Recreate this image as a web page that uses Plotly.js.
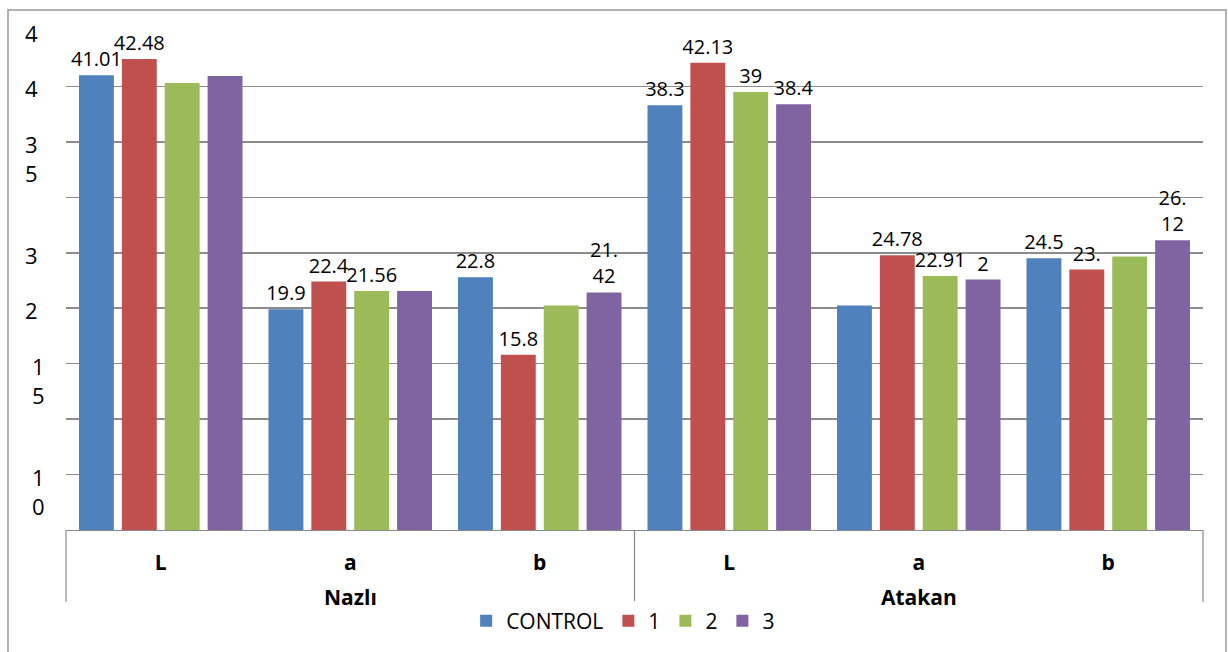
<!DOCTYPE html>
<html>
<head>
<meta charset="utf-8">
<script src="https://cdn.plot.ly/plotly-3.0.1.min.js"></script>
<style>html,body{margin:0;padding:0;background:#fff;}#chart{width:1228px;height:652px;}</style>
</head>
<body>
<div id="chart"></div>
<script>
// Category levels
const varieties = ['Nazlı', 'Nazlı', 'Nazlı', 'Atakan', 'Atakan', 'Atakan'];
const params = ['L', 'a', 'b', 'L', 'a', 'b'];

// Series names
const seriesNames = ['CONTROL', '1', '2', '3'];

// Series values
const controlVals = [41.01, 19.9, 22.8, 38.3, 20.25, 24.5];
const t1Vals = [42.48, 22.4, 15.8, 42.13, 24.78, 23.49];
const t2Vals = [40.3, 21.56, 20.25, 39.5, 22.91, 24.66];
const t3Vals = [40.95, 21.55, 21.42, 38.4, 22.58, 26.12];

// Data labels as they appear in the picture
const controlLabels = ['41.01', '19.9', '22.8', '38.3', '', '24.5'];
const t1Labels = ['42.48', '22.4', '15.8', '42.13', '24.78', '23.'];
const t2Labels = ['', '21.56', '', '39', '22.91', ''];
const t3Labels = ['', '', '21.<br>42', '38.4', '2', '26.<br>12'];

// Y tick labels as printed (wrapped) in the picture
const yTickVals = [45, 40, 35, 25, 20, 15, 5];
const yTickText = ['4', '4', '3<br>5', '3', '2', '1<br>5', '1<br>0'];

const colors = ['#4F81BD', '#C0504D', '#9BBB59', '#8064A2'];
const allVals = [controlVals, t1Vals, t2Vals, t3Vals];
const allLabels = [controlLabels, t1Labels, t2Labels, t3Labels];

const FONT = '"Open Sans", Lato, "Liberation Sans", sans-serif';
const xIdx = params.map((_, i) => i);
const xRange = [-0.5, params.length - 0.5];

const traces = seriesNames.map((name, i) => ({
  type: 'bar',
  name: name,
  x: xIdx,
  y: allVals[i],
  text: allLabels[i],
  textposition: 'outside',
  constraintext: 'none',
  cliponaxis: false,
  textfont: {family: FONT, size: 20, color: '#000'},
  marker: {color: colors[i], line: {width: 0}},
  hoverinfo: 'skip'
}));

// y tick labels (wrapped text as in the picture)
const annotations = yTickVals.map((v, i) => ({
  xref: 'paper', yref: 'y',
  x: 0, y: v,
  xanchor: 'center', yanchor: 'top',
  xshift: yTickText[i].startsWith('1') ? -28 : -35, yshift: 15,
  text: yTickText[i],
  showarrow: false,
  font: {family: FONT, size: 22, color: '#000'}
}));

// second level of the category axis: group names and dividers
const groups = [];
varieties.forEach((g, i) => {
  if (!groups.length || groups[groups.length - 1].name !== g) groups.push({name: g, start: i, end: i});
  else groups[groups.length - 1].end = i;
});
const toPaper = v => (v - xRange[0]) / (xRange[1] - xRange[0]);
const shapes = [];
groups.forEach(g => {
  annotations.push({
    xref: 'x', yref: 'paper',
    x: (g.start + g.end) / 2, y: -0.134,
    xanchor: 'center', yanchor: 'middle',
    text: '<b>' + g.name + '</b>', showarrow: false,
    font: {family: FONT, size: 21, color: '#000'}
  });
});
const bounds = [groups[0].start - 0.5].concat(groups.map(g => g.end + 0.5));
bounds.forEach(b => shapes.push({
  type: 'line', xref: 'paper', yref: 'paper',
  x0: toPaper(b), x1: toPaper(b), y0: 0, y1: -0.144,
  line: {color: '#888', width: 1.2}
}));
// outer chart-area frame
shapes.push({
  type: 'rect', xref: 'paper', yref: 'paper',
  x0: -0.051, x1: 1.0202, y0: -0.26, y1: 1.042,
  line: {color: '#999', width: 1.5}, fillcolor: 'rgba(0,0,0,0)', layer: 'below'
});

const layout = {
  width: 1228, height: 652,
  margin: {l: 66, r: 25, t: 31, b: 121},
  paper_bgcolor: '#fff', plot_bgcolor: '#fff',
  barmode: 'group',
  bargap: 0.095,
  bargroupgap: 0.186,
  showlegend: true,
  legend: {
    orientation: 'h',
    x: 0.49, xanchor: 'center',
    y: -0.18, yanchor: 'middle',
    font: {family: FONT, size: 21, color: '#000'},
    itemclick: false
  },
  xaxis: {
    range: xRange,
    tickvals: xIdx,
    ticktext: params.map(p => '<b>' + p + '</b>'),
    showline: true, linecolor: '#888', linewidth: 1.2,
    showgrid: false, zeroline: false,
    ticks: 'outside', ticklen: 14, tickcolor: 'rgba(0,0,0,0)',
    tickfont: {family: FONT, size: 21, color: '#000'}
  },
  yaxis: {
    range: [0, 45],
    dtick: 5,
    showgrid: true, gridcolor: '#8c8c8c', gridwidth: 1.5,
    showticklabels: false,
    zeroline: false,
    showline: false,
    ticks: ''
  },
  annotations: annotations,
  shapes: shapes
};

Plotly.newPlot('chart', traces, layout, {displayModeBar: false, staticPlot: true});
</script>
</body>
</html>
